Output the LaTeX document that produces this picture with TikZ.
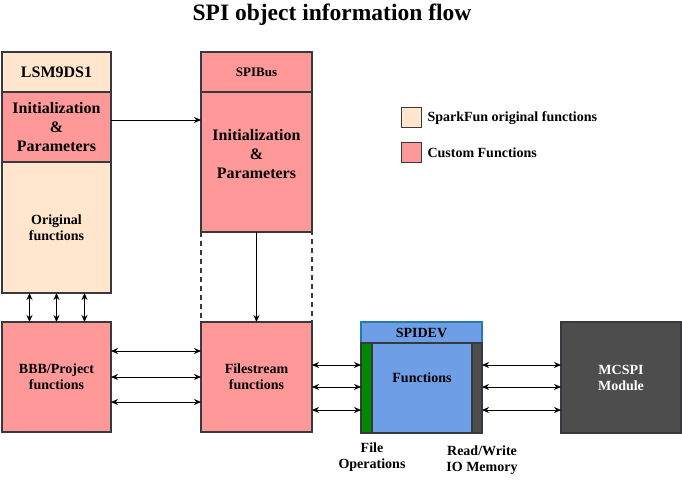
\documentclass[tikz,border=0pt]{standalone}
\usepackage{fontspec}
\setmainfont{Liberation Serif}
\usetikzlibrary{arrows.meta,calc}
\definecolor{peach}{HTML}{FFE6CC}
\definecolor{pinkf}{HTML}{FF9999}
\definecolor{bord}{HTML}{36393D}
\definecolor{bluef}{HTML}{6D9EE6}
\definecolor{blueb}{HTML}{1F7AB5}
\definecolor{greenf}{HTML}{008A00}
\definecolor{grayf}{HTML}{4D4D4D}
\begin{document}
\begin{tikzpicture}[x=1pt,y=-1pt,
  box/.style={draw=bord,line width=1.3pt,anchor=north west,inner sep=0pt,outer sep=0pt,align=center,font=\fontsize{14}{16}\selectfont\bfseries},
  arr/.style={-{Stealth[length=7pt,width=6pt]},line width=0.8pt},
  dbl/.style={{Stealth[length=7pt,width=6pt]}-{Stealth[length=7pt,width=6pt]},line width=0.8pt},
  lbl/.style={align=center,font=\fontsize{14}{16}\selectfont\bfseries,inner sep=0pt},
  big/.style={font=\fontsize{16}{19}\selectfont\bfseries}]
\useasboundingbox (0,0) rectangle (682,493);
\node[font=\fontsize{23.5}{28}\selectfont\bfseries] (title) at (332,15) {SPI object information flow};
% LSM9DS1 column
\node[box,fill=peach,minimum width=109,minimum height=40,big] (lsm) at (2,52) {LSM9DS1};
\node[box,fill=pinkf,minimum width=109,minimum height=70,big] (linit) at (2,92) {Initialization\\\&\\Parameters};
\node[box,fill=peach,minimum width=109,minimum height=131] (orig) at (2,162) {Original\\functions};
% SPIBus column
\node[box,fill=pinkf,minimum width=111,minimum height=40,font=\fontsize{13}{16}\selectfont\bfseries] (spibus) at (201,52) {SPIBus};
\node[box,fill=pinkf,minimum width=111,minimum height=140] (sinit) at (201,92) {};
\node[lbl,big] (sinitt) at ([yshift=8pt]sinit.center) {Initialization\\\&\\Parameters};
\node[anchor=north west,minimum width=111,minimum height=90,inner sep=0pt,outer sep=0pt] (dash) at (201,232) {};
\draw[draw=bord,line width=1.3pt,dash pattern=on 5pt off 4pt] (dash.north west) rectangle (dash.south east);
% bottom row
\node[box,fill=pinkf,minimum width=109,minimum height=110] (bbb) at (2,322) {BBB/Project\\functions};
\node[box,fill=pinkf,minimum width=111,minimum height=110] (fs) at (201,322) {Filestream\\functions};
% SPIDEV
\node[box,draw=blueb,fill=bluef,minimum width=121,minimum height=21] (spidev) at (361,322) {SPIDEV};
\node[box,fill=greenf,minimum width=11,minimum height=90] (fops) at (361,343) {};
\node[box,fill=bluef,minimum width=100,minimum height=90] (func) at (372,343) {};
\node[lbl] (funct) at ([yshift=10pt]func.center) {Functions};
\node[box,fill=grayf,minimum width=10,minimum height=90] (rw) at (472,343) {};
% MCSPI
\node[box,fill=grayf,text=white,minimum width=120,minimum height=111] (mcspi) at (561,322) {MCSPI\\Module};
% labels
\node[lbl] (fol) at (372,457) {File\\Operations};
\node[lbl] (rwl) at (482,460) {Read/Write\\IO Memory};
% legend
\node[draw=bord,line width=1.3pt,fill=peach,minimum size=20,inner sep=0pt,anchor=north west] (leg1) at (401,107) {};
\node[draw=bord,line width=1.3pt,fill=pinkf,minimum size=20,inner sep=0pt,anchor=north west] (leg2) at (401,142) {};
\node[lbl,anchor=west] (leg1t) at ([xshift=5pt]leg1.east) {SparkFun original functions};
\node[lbl,anchor=west] (leg2t) at ([xshift=5pt]leg2.east) {Custom Functions};
% arrows
\draw[arr] ([yshift=7pt]linit.east) -- ([yshift=7pt]sinit.west |- linit.east);
\draw[arr] (sinit.south) -- (fs.north);
\foreach \dx in {-27,0,28} {
  \draw[dbl] ([xshift=\dx pt]orig.south) -- ([xshift=\dx pt]bbb.north);
}
\foreach \dy in {26,0,-25} {
  \draw[dbl] ([yshift=\dy pt]bbb.east) -- ([yshift=\dy pt]fs.west);
}
\foreach \dy in {12,-10,-33} {
  \draw[dbl] ([yshift=\dy pt]fs.east) -- ([yshift=\dy pt]fs.east -| fops.west);
  \draw[dbl] ([yshift=\dy pt]fs.east -| rw.east) -- ([yshift=\dy pt]fs.east -| mcspi.west);
}
\end{tikzpicture}
\end{document}
